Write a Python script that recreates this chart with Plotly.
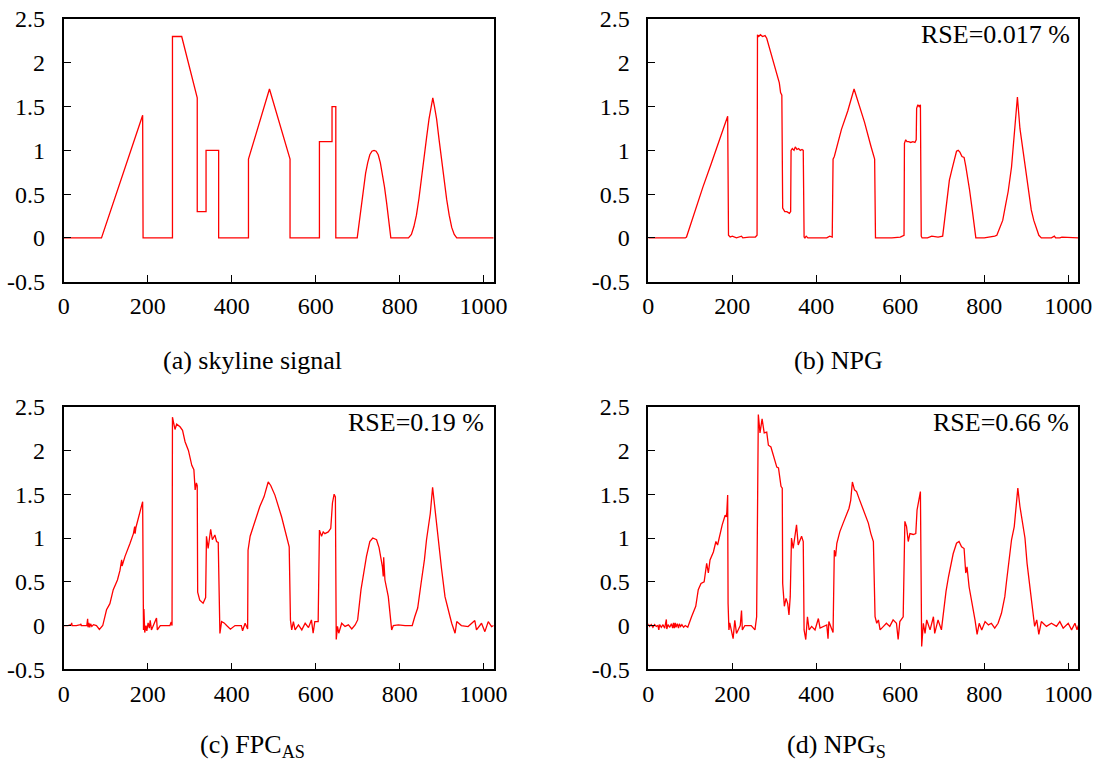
import plotly.graph_objects as go

# ---------------- data ----------------
# (a) skyline signal
x_sky = [0, 90, 188, 189, 259, 259, 281, 318, 318, 339, 339, 369, 369, 440, 440, 490, 539, 539,
         609, 609, 639, 639, 648, 648, 699, 704, 709, 714, 719, 724, 729, 734, 739, 744, 749, 754,
         759, 764, 769, 774, 779, 821, 828, 834, 840, 846, 852, 858, 864, 870, 875, 879, 883, 888,
         894, 900, 906, 912, 918, 924, 930, 936, 1024]
y_sky = [0, 0, 1.4, 0, 0, 2.3, 2.3, 1.6, 0.3, 0.3, 1.0, 1.0, 0, 0, 0.9, 1.7, 0.9, 0,
         0, 1.1, 1.1, 1.5, 1.5, 0, 0, 0.2, 0.4, 0.58, 0.74, 0.86, 0.95, 0.99, 1.0, 0.99, 0.95, 0.86,
         0.74, 0.58, 0.4, 0.2, 0, 0, 0.04, 0.13, 0.26, 0.45, 0.66, 0.9, 1.14, 1.36, 1.5, 1.6, 1.5, 1.36,
         1.12, 0.88, 0.64, 0.44, 0.26, 0.12, 0.04, 0, 0]

# (b) NPG reconstruction
x_npg = [0, 60, 88, 91, 99, 115, 130, 150, 170, 189, 191, 195, 200, 210, 222, 225, 240, 255, 259,
         260, 263, 267, 272, 278, 282, 295, 305, 312, 315, 318, 320, 325, 330, 336, 339, 340, 343,
         347, 350, 354, 358, 362, 366, 369, 371, 373, 376, 380, 400, 425, 432, 438, 440, 443, 460,
         475, 490, 500, 515, 530, 537, 539, 541, 560, 580, 600, 607, 609, 610, 613, 616, 620, 625,
         630, 635, 638, 639, 642, 645, 648, 650, 652, 665, 675, 690, 697, 701, 708, 717, 723, 728,
         734, 738, 742, 747, 752, 756, 760, 765, 772, 780, 800, 815, 825, 830, 837, 844, 851, 857,
         865, 872, 879, 885, 892, 898, 905, 912, 918, 925, 930, 936, 960, 967, 970, 980, 985, 1024]
y_npg = [0, 0, 0, 0.01, 0.13, 0.36, 0.58, 0.85, 1.12, 1.39, 0.03, 0.01, 0.02, 0, 0.02, 0, 0.01, 0.01, 0.03,
         2.32, 2.3, 2.32, 2.3, 2.31, 2.28, 2.05, 1.88, 1.77, 1.66, 1.63, 0.34, 0.3, 0.3, 0.28, 0.3, 1.0, 1.02,
         1.0, 1.04, 1.01, 1.02, 1.0, 1.01, 1.0, 0.01, 0, 0.02, 0, 0, 0, 0.02, 0.01, 0.9, 0.93, 1.24,
         1.45, 1.7, 1.55, 1.32, 1.05, 0.93, 0.9, 0, 0, 0, 0.01, 0.02, 0.03, 1.08, 1.12, 1.1, 1.1, 1.09,
         1.1, 1.09, 1.12, 1.48, 1.52, 1.5, 1.52, 0.02, 0, 0, 0.02, 0.01, 0.02, 0.02, 0.3, 0.66, 0.78, 0.89,
         0.99, 1.0, 0.98, 0.93, 0.92, 0.82, 0.72, 0.55, 0.3, 0, 0, 0.01, 0.02, 0.03, 0.12, 0.2, 0.38, 0.53,
         0.81, 1.2, 1.61, 1.25, 1.0, 0.81, 0.55, 0.32, 0.2, 0.09, 0.03, 0, 0, 0.02, 0, 0, 0.01, 0]

# (c) FPC_AS reconstruction
x_fpc = [0, 10, 18, 19, 20, 30, 40, 41, 42, 55, 57, 58, 60, 62, 64, 67, 71, 78, 85, 93, 102, 110,
         118, 128, 134, 137, 138, 139, 146, 158, 166, 169, 170, 172, 178, 188, 190, 191, 193, 196,
         198, 201, 204, 206, 209, 213, 221, 223, 230, 245, 253, 256, 258, 259, 265, 269, 277, 283,
         289, 297, 301, 305, 310, 313, 316, 318, 319, 324, 332, 338, 340, 344, 350, 354, 360, 364,
         368, 370, 372, 376, 382, 388, 397, 408, 423, 426, 432, 438, 439, 444, 452, 459, 467, 477,
         487, 493, 503, 519, 533, 537, 540, 543, 547, 551, 559, 567, 575, 583, 590, 594, 598, 606,
         609, 614, 618, 622, 630, 636, 640, 644, 647, 649, 652, 655, 662, 670, 678, 686, 694, 700,
         708, 716, 721, 729, 736, 745, 751, 759, 761, 762, 765, 773, 781, 785, 797, 813, 830, 836,
         843, 851, 859, 864, 873, 878.5, 884, 892, 900, 908, 914, 920, 924, 929, 932, 936, 947, 963,
         979, 983, 995, 1003, 1011, 1019, 1024]
y_fpc = [0, 0, 0.01, 0.03, 0, 0, 0.01, 0.02, 0, 0, 0.076, -0.02, 0.03, -0.02, 0.02, -0.01, 0.01, 0, -0.045, 0, 0.18, 0.25,
         0.41, 0.52, 0.63, 0.7, 0.75, 0.68, 0.79, 0.94, 1.05, 1.13, 1.05, 1.12, 1.24, 1.415, -0.05, 0.19, -0.08, 0.0,
         -0.06, 0.03, -0.03, 0.06, -0.05, 0, 0.085, -0.05, 0, 0, 0.0, 0.04, 0.0, 2.38, 2.24, 2.3, 2.27, 2.23,
         2.1, 2.0, 1.91, 1.83, 1.78, 1.55, 1.63, 1.6, 0.38, 0.29, 0.255, 0.32, 1.02, 0.88, 1.1, 0.98, 1.035, 0.96,
         0.95, 0.03, -0.09, 0.045, 0.03, 0.0, -0.042, 0, 0, -0.06, 0.026, -0.04, 0.86, 1.02, 1.13, 1.24, 1.36, 1.47,
         1.64, 1.6, 1.49, 1.24, 0.98, 0.9, 0.06, -0.05, 0.045, -0.05, 0.007, -0.05, 0.026, -0.023, 0.064, -0.088, 0.045, 0.045,
         1.09, 1.02, 1.07, 1.05, 1.07, 1.11, 1.4, 1.5, 1.47, -0.16, -0.01, -0.088, 0.026, -0.01, 0.007, -0.04, 0.007, 0.064,
         0.41, 0.67, 0.79, 0.96, 1.0, 0.98, 0.89, 0.67, 0.56, 0.78, 0.52, 0.33, -0.05, 0.0, 0.007, 0, 0, 0.1,
         0.2, 0.48, 0.75, 0.98, 1.28, 1.58, 1.32, 0.98, 0.64, 0.33, 0.2, 0.1, 0.026, -0.05, -0.088, 0.045, 0, -0.012,
         0.057, -0.05, 0.026, -0.07, 0.045, -0.012, 0]

# (d) NPG_S reconstruction
x_npgs = [0, 3, 7, 11, 15, 19, 23, 25, 27, 31, 35, 39, 43, 44, 47, 51, 55, 58, 60, 62, 64, 66, 69,
          72, 74, 77, 80, 84, 88, 94, 103, 113, 119, 125.5, 133, 139, 143, 147, 155, 161, 165, 171,
          176, 183, 186, 187, 189, 190, 192, 194, 196, 202, 206, 210, 214, 219, 222, 224, 230, 245,
          254, 258, 262, 266, 271, 276, 282, 286, 292, 298, 302, 306, 310, 316, 319, 320, 324, 328,
          332, 335, 338, 341, 345, 349, 353, 357, 361, 365, 369, 371, 375, 379, 383, 389, 397, 405,
          409, 417, 425, 428, 430, 436, 440, 443, 446, 449, 456, 464, 472, 478, 482, 486, 491, 496,
          502, 506, 510, 516, 524, 530, 536, 540, 544, 548, 552, 560, 567, 575, 583, 591, 595, 599,
          607, 611, 615, 619, 623, 631, 637, 640, 644, 648, 651, 655, 659, 663, 671, 679, 682, 690,
          698, 702, 709, 715, 720, 726, 734, 740, 746, 752, 756, 759, 764, 770, 778, 783, 788, 794,
          802, 810, 817, 825, 833, 841, 849, 853, 859.5, 865, 871.5, 876, 880, 885, 890, 897, 902,
          909, 915, 920, 925, 930, 936, 948, 960, 972, 980, 988, 1000, 1008, 1016, 1021, 1024]
y_npgs = [0.02, -0.01, 0.01, -0.02, 0.01, -0.01, 0.0, -0.05, 0.01, -0.02, 0.01, -0.03, 0.07, -0.04, 0.01, -0.02, 0.02, -0.03, 0.03, -0.03, 0.03, -0.02, 0.02,
          -0.03, 0.02, -0.01, 0.01, -0.02, 0.0, -0.02, 0.1, 0.22, 0.41, 0.48, 0.5, 0.71, 0.6, 0.75, 0.84, 0.96, 0.92, 1.05,
          1.15, 1.26, 1.24, 1.3, 1.49, 0.25, -0.05, 0.03, -0.02, -0.15, 0.06, -0.09, -0.05, 0.0, 0.17, -0.05, 0.0, 0.0,
          -0.05, 0.1, 2.41, 2.2, 2.36, 2.2, 2.21, 2.06, 2.04, 1.93, 1.89, 1.81, 1.8, 1.59, 1.57, 0.48, 0.22, 0.31,
          0.25, 0.12, 0.33, 1.0, 0.88, 1.0, 1.15, 0.92, 0.98, 1.02, 0.96, -0.05, -0.16, 0.1, -0.05, -0.01, -0.05, 0.08,
          -0.03, -0.01, 0.007, -0.15, 0.045, -0.03, -0.08, 0.86, 0.79, 0.94, 1.07, 1.17, 1.28, 1.34, 1.43, 1.64, 1.55, 1.53,
          1.45, 1.4, 1.34, 1.28, 1.17, 1.05, 0.96, 0.1, 0.026, 0.064, -0.05, -0.01, 0.026, -0.01, 0.065, 0.026, -0.16, 0.045,
          0.1, 1.19, 1.13, 0.96, 1.05, 1.04, 1.05, 1.32, 1.43, 1.53, -0.24, 0.026, -0.09, 0.064, -0.05, 0.1, -0.09, 0.064,
          -0.05, 0.14, 0.39, 0.56, 0.69, 0.82, 0.94, 0.96, 0.9, 0.88, 0.6, 0.67, 0.44, 0.29, 0.065, -0.1, 0.026, -0.05,
          0.045, 0.007, 0.026, -0.03, 0.026, 0.14, 0.33, 0.5, 0.75, 0.98, 1.13, 1.36, 1.57, 1.36, 1.2, 1.0, 0.71,
          0.44, 0.22, -0.01, 0.064, -0.1, 0.045, -0.01, 0.026, -0.01, 0.045, -0.03, 0.026, -0.05, 0.026, -0.05, 0]

captions = ["(a) skyline signal", "(b) NPG", "(c) FPC<sub>AS</sub>", "(d) NPG<sub>S</sub>"]
rse_labels = [None, "RSE=0.017 %", "RSE=0.19 %", "RSE=0.66 %"]
x_ticks = [0, 200, 400, 600, 800, 1000]
y_ticks = [-0.5, 0, 0.5, 1, 1.5, 2, 2.5]
y_tick_text = ["-0.5", "0", "0.5", "1", "1.5", "2", "2.5"]

# ---------------- layout ----------------
W, H = 1101, 761
FONT = "Liberation Serif"
# panel boxes in pixels: (left, right, top, bottom)
boxes = [(63.7, 493.7, 19, 281.7), (648.3, 1078.3, 19, 281.7),
         (63.7, 493.7, 406.7, 669.3), (648.3, 1078.3, 406.7, 669.3)]
cap_pos = [(252.5, 360), (838.7, 360), (252.2, 746), (836.7, 746)]
rse_pos = [None, (1071.7, 35), (485.7, 422.7), (1070.7, 422.7)]

series = [(x_sky, y_sky), (x_npg, y_npg), (x_fpc, y_fpc), (x_npgs, y_npgs)]

fig = go.Figure()
layout = dict(width=W, height=H, margin=dict(l=0, r=0, t=0, b=0, pad=0, autoexpand=False),
              paper_bgcolor="white", plot_bgcolor="white", showlegend=False,
              font=dict(family=FONT, size=24, color="black"))
annotations = []
for i, ((xs, ys), (l, r, t, b)) in enumerate(zip(series, boxes)):
    n = "" if i == 0 else str(i + 1)
    fig.add_trace(go.Scatter(x=xs, y=ys, mode="lines",
                             line=dict(color="#ff0000", width=1.3),
                             xaxis="x" + n, yaxis="y" + n, hoverinfo="skip"))
    common = dict(showline=True, mirror=True, linecolor="black", linewidth=1.6,
                  ticks="inside", ticklen=7, tickwidth=1, tickcolor="black",
                  showgrid=False, zeroline=False, automargin=False,
                  tickfont=dict(family=FONT, size=24, color="black"))
    layout["xaxis" + n] = dict(domain=[l / W, r / W], anchor="y" + n, range=[0, 1024],
                               tickvals=x_ticks, ticklabelstandoff=2, **common)
    layout["yaxis" + n] = dict(domain=[1 - b / H, 1 - t / H], anchor="x" + n, range=[-0.5, 2.5],
                               tickvals=y_ticks, ticktext=y_tick_text, ticklabelstandoff=12, **common)
    cx, cy = cap_pos[i]
    annotations.append(dict(text=captions[i], x=cx / W, y=1 - cy / H, xref="paper", yref="paper",
                            xanchor="center", yanchor="middle", showarrow=False,
                            font=dict(family=FONT, size=26, color="black")))
    if rse_labels[i]:
        rx, ry = rse_pos[i]
        annotations.append(dict(text=rse_labels[i], x=rx / W, y=1 - ry / H, xref="paper", yref="paper",
                                xanchor="right", yanchor="middle", showarrow=False,
                                font=dict(family=FONT, size=26, color="black")))
layout["annotations"] = annotations
fig.update_layout(**layout)
fig.write_html("out.html")
